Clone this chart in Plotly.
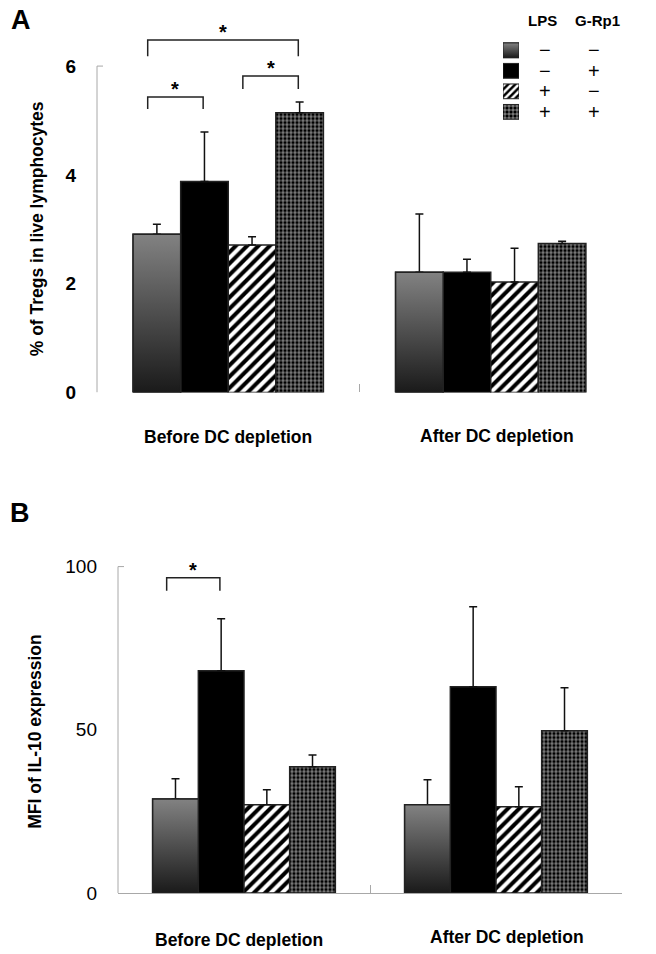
import plotly.graph_objects as go

# Data
groups = ["Before DC depletion", "After DC depletion"]
series = ["LPS− G-Rp1−", "LPS− G-Rp1+", "LPS+ G-Rp1−", "LPS+ G-Rp1+"]
lps_signs = ["−", "−", "+", "+"]
grp1_signs = ["−", "+", "−", "+"]

# Panel A: % of Tregs in live lymphocytes, per series -> [before, after]
treg_mean = [[2.91, 2.21], [3.88, 2.21], [2.71, 2.03], [5.14, 2.74]]
treg_err = [[0.18, 1.07], [0.91, 0.24], [0.15, 0.62], [0.20, 0.04]]
treg_ticks = [0, 2, 4, 6]

# Panel B: MFI of IL-10 expression, per series -> [before, after]
il10_mean = [[28.8, 27.0], [68.1, 63.2], [27.0, 26.4], [38.7, 49.7]]
il10_err = [[6.2, 7.7], [15.9, 24.5], [4.6, 6.1], [3.6, 13.2]]
il10_ticks = [0, 50, 100]

# significance brackets: (group, bar from, bar to, bracket height, leg end)
treg_sig = [(0, 0, 1, 5.43, 5.21), (0, 2, 3, 5.82, 5.58), (0, 0, 3, 6.48, 6.18)]
il10_sig = [(0, 0, 1, 96.6, 92.6)]

W, H = 656, 954
FIG_H = 966  # the page gets squeezed a little vertically when photographed
FONT = "Liberation Sans"
BARGAP = 0.275
n = len(series)
bw = (1 - BARGAP) / n


def px(x):
    return x / W


def py(y):
    return 1 - y / H


def bar_center(g, i):
    return g - (1 - BARGAP) / 2 + bw * (i + 0.5)


grad = [[0, "#1a1a1a"], [1, "#828282"]]
outline = dict(color="#222222", width=1.5)
styles = [
    dict(color="#4d4d4d", line=outline),
    dict(color="black", line=outline),
    dict(color="white", line=outline,
         pattern=dict(shape="/", bgcolor="white", fgcolor="black", size=8,
                      solidity=0.5, fillmode="replace")),
    dict(color="black", line=outline,
         pattern=dict(shape="+", bgcolor="black", fgcolor="white", size=4,
                      solidity=0.25, fillmode="replace")),
]
legend_sizes = [8, 8, 5, 4]

fig = go.Figure()
xs = list(range(len(groups)))

for ax, means, errs in [("", treg_mean, treg_err), ("2", il10_mean, il10_err)]:
    for i in range(n):
        fig.add_trace(go.Bar(
            x=xs, y=means[i], name=series[i],
            xaxis="x" + ax, yaxis="y" + ax,
            marker=styles[i],
            error_y=dict(type="data", array=errs[i], arrayminus=[0] * len(xs),
                         symmetric=False, color="#111111", thickness=1.5, width=4),
        ))
    # gradient fill for the first series (bars can't take gradients)
    for g in xs:
        c = bar_center(g, 0)
        v = means[0][g]
        fig.add_trace(go.Scatter(
            x=[c - bw / 2, c + bw / 2, c + bw / 2, c - bw / 2, c - bw / 2],
            y=[0, 0, v, v, 0], xaxis="x" + ax, yaxis="y" + ax,
            mode="lines", fill="toself", line=outline,
            fillgradient=dict(type="vertical", colorscale=grad),
            hoverinfo="skip",
        ))

# legend swatches (top right): one row per series
rows = [n - 1 - i for i in range(n)]
for i in range(n):
    m = dict(styles[i])
    m["line"] = dict(color="#222222", width=1)
    if "pattern" in m:
        m["pattern"] = dict(m["pattern"], size=legend_sizes[i])
    fig.add_trace(go.Bar(
        y=[rows[i]], x=[1], base=0, orientation="h", width=0.72,
        offsetgroup="legend", xaxis="x3", yaxis="y3", hoverinfo="skip",
        name=series[i], marker=m,
    ))
fig.add_trace(go.Scatter(
    x=[0, 1, 1, 0, 0], y=[rows[0] - 0.36, rows[0] - 0.36, rows[0] + 0.36, rows[0] + 0.36, rows[0] - 0.36],
    xaxis="x3", yaxis="y3", mode="lines", fill="toself",
    line=dict(color="#222222", width=1),
    fillgradient=dict(type="vertical", colorscale=grad), hoverinfo="skip",
))

shapes = []
annotations = []


def note(x, y, text, font, **kw):
    d = dict(x=x, y=y, xref="paper", yref="paper", text=text, showarrow=False,
             font=font, xanchor="center", yanchor="middle")
    d.update(kw)
    annotations.append(d)


star_font = dict(family=FONT, size=20, color="black", weight="bold")
for ax, sig in [("", treg_sig), ("2", il10_sig)]:
    for g, a, b, h, leg in sig:
        x0 = bar_center(g, a) - 0.035
        x1 = bar_center(g, b) - 0.005
        shapes.append(dict(type="path", xref="x" + ax, yref="y" + ax,
                           path=f"M {x0},{leg} L {x0},{h} L {x1},{h} L {x1},{leg}",
                           line=dict(color="#222222", width=1.5)))
        note((x0 + x1) / 2, h, "*", star_font, xref="x" + ax, yref="y" + ax, yshift=8)

# y-axis lines drawn only up to the top tick, with a short hook
for ax, top, hook in [("", treg_ticks[-1], 6 / 525), ("2", il10_ticks[-1], 6 / 504)]:
    shapes.append(dict(type="line", xref="x" + ax + " domain", yref="y" + ax,
                       x0=0, x1=0, y0=0, y1=top, line=dict(color="#a8a8a8", width=1)))
    shapes.append(dict(type="line", xref="x" + ax + " domain", yref="y" + ax,
                       x0=0, x1=hook, y0=top, y1=top, line=dict(color="#a8a8a8", width=1)))

lab_font = dict(family=FONT, size=17.5, color="black", weight="bold")
# category labels
for (x, y), text in zip([(228, 437), (497, 436)], groups):
    note(px(x), py(y), text, lab_font)
for (x, y), text in zip([(239, 939), (507, 936)], groups):
    note(px(x), py(y), text, lab_font)

# axis titles
note(px(37), py(229), "% of Tregs in live lymphocytes", lab_font, textangle=-90)
note(px(35), py(731), "MFI of IL-10 expression", lab_font, textangle=-90)

# panel letters
letter_font = dict(family=FONT, size=27, color="black", weight="bold")
note(px(21), py(20), "A", letter_font)
note(px(20), py(512), "B", letter_font)

# legend header and +/- table
hdr_font = dict(family=FONT, size=15, color="black", weight="bold")
note(px(542), py(20), "LPS", hdr_font)
note(px(597), py(20), "G-Rp1", hdr_font)
sign_font = dict(family=FONT, size=20, color="black")
for r, s1, s2 in zip(rows, lps_signs, grp1_signs):
    note(px(545), r, s1, sign_font, yref="y3")
    note(px(594), r, s2, sign_font, yref="y3")

xcommon = dict(range=[-0.5, 1.5], tickvals=[0.5, 1.5], ticks="inside", ticklen=8,
               tickcolor="#a8a8a8", showticklabels=False, showgrid=False,
               zeroline=False, fixedrange=True)
ycommon = dict(ticks="", showline=False, showgrid=False, zeroline=False,
               ticklabelstandoff=20, fixedrange=True)

fig.update_layout(
    width=W, height=FIG_H,
    margin=dict(l=0, r=0, t=0, b=0),
    paper_bgcolor="white", plot_bgcolor="white",
    font=dict(family=FONT, color="black"),
    showlegend=False,
    barmode="group", bargap=BARGAP, bargroupgap=0,
    xaxis=dict(domain=[px(97), px(622)], showline=False, anchor="y", **xcommon),
    yaxis=dict(domain=[py(392), py(392 - 6.8 * 54.33)], range=[0, 6.8],
               tickvals=treg_ticks, anchor="x",
               tickfont=dict(family=FONT, size=19, color="black", weight="bold"),
               **ycommon),
    xaxis2=dict(domain=[px(118), px(622)], showline=True, linecolor="#a8a8a8",
                linewidth=1, anchor="y2", **xcommon),
    yaxis2=dict(domain=[py(892), py(892 - 104 * 3.26)], range=[0, 104],
                tickvals=il10_ticks, anchor="x2",
                tickfont=dict(family=FONT, size=19, color="black"), **ycommon),
    xaxis3=dict(domain=[px(503), px(519)], range=[0, 1], visible=False,
                anchor="y3", fixedrange=True),
    yaxis3=dict(domain=[py(122), py(40)], range=[-0.5, n - 0.5], visible=False,
                anchor="x3", fixedrange=True),
    shapes=shapes,
    annotations=annotations,
)

# pin the figure to the window origin and keep the page exactly figure-sized
page_css = (
    "var b=document.body,h=document.documentElement;"
    "b.style.margin='0';b.style.position='relative';"
    f"b.style.width='{W}px';b.style.height='{FIG_H}px';b.style.overflow='hidden';"
    "h.style.overflow='hidden';"
)
fig.write_html("out.html", config={"displayModeBar": False}, post_script=page_css)
